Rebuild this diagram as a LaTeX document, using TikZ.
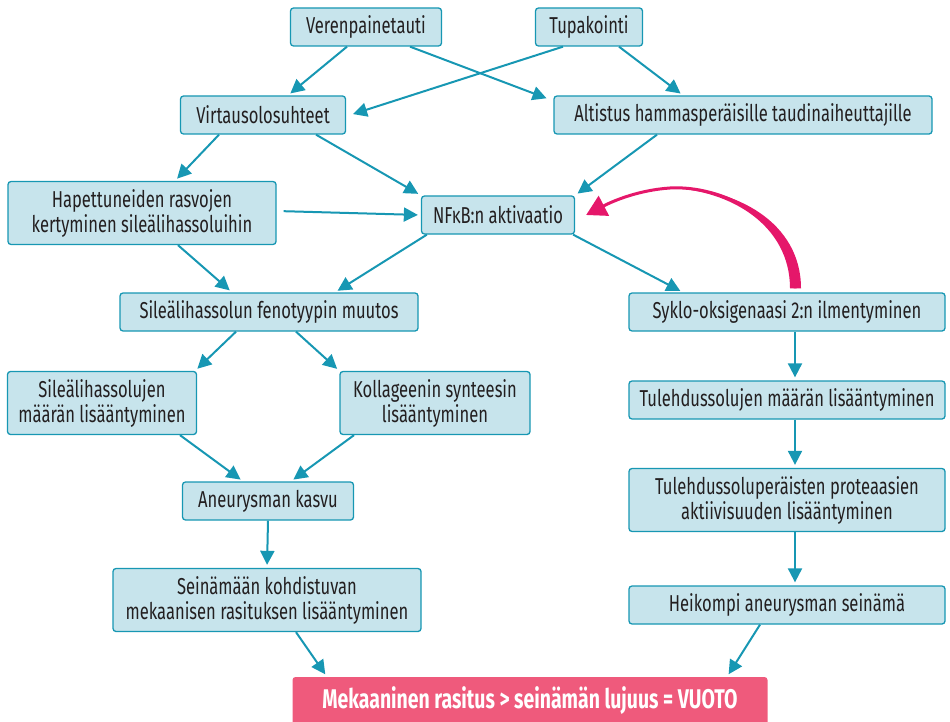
\documentclass[tikz,border=0pt]{standalone}
\usepackage{fontspec}
\setmainfont{Fira Sans}[FakeStretch=0.72]
\usetikzlibrary{arrows.meta}
\definecolor{Teal}{HTML}{1797B3}
\definecolor{Ice}{HTML}{C7E4EC}
\definecolor{Ink}{HTML}{231F20}
\definecolor{Rose}{HTML}{EF5A7C}
\definecolor{Magenta}{HTML}{E5176A}
\begin{document}
\begin{tikzpicture}[x=1pt,y=-1pt,
    box/.style={draw=Teal,fill=Ice,line width=1.3pt,rounded corners=3pt,align=center,inner sep=0pt,
      text=Ink,font=\fontsize{23}{25}\selectfont,minimum height=38},
    tall/.style={box,minimum height=63},
    arr/.style={Teal,line width=2pt,-{Triangle[length=14pt,width=14pt]},shorten >=3pt}]
  \useasboundingbox(0,0)rectangle(950,722);
  % left branch
  \node[box,minimum width=151](ver)at(366,27){Verenpainetauti};
  \node[box,minimum width=107](tup)at(589,27){Tupakointi};
  \node[box,minimum width=165](vir)at(263,115){Virtausolosuhteet};
  \node[box,minimum width=378](alt)at(743,115){Altistus hammasperäisille taudinaiheuttajille};
  \node[tall,minimum width=268](hap)at(142,213){Hapettuneiden rasvojen\\kertyminen sileälihassoluihin};
  \node[box,minimum width=153](nfk)at(498,215){NFκB:n aktivaatio};
  \node[box,minimum width=298](sil)at(269,312){Sileälihassolun fenotyypin muutos};
  \node[tall,minimum width=189](sl1)at(102,403){Sileälihassolujen\\määrän lisääntyminen};
  \node[tall,minimum width=190](kol)at(435,403){Kollageenin synteesin\\lisääntyminen};
  \node[box,minimum width=171](ane)at(268,501){Aneurysman kasvu};
  \node[tall,minimum width=308](sei)at(267,600){Seinämään kohdistuvan\\mekaanisen rasituksen lisääntyminen};
  % right branch
  \node[box,minimum width=316](syk)at(787,312){Syklo-oksigenaasi 2:n ilmentyminen};
  \node[box,minimum width=316](tu1)at(787,400){Tulehdussolujen määrän lisääntyminen};
  \node[tall,minimum width=316](tu2)at(787,500){Tulehdussoluperäisten proteaasien\\aktiivisuuden lisääntyminen};
  \node[box,minimum width=316](hei)at(787,605){Heikompi aneurysman seinämä};
  \node[fill=Rose,rounded corners=3pt,minimum width=475,minimum height=48,text=white,
    font=\fontsize{27}{29}\selectfont\bfseries](mek)at(530,701){Mekaaninen rasitus > seinämän lujuus = VUOTO};
  % connectors
  \draw[arr]([xshift=-19]ver.south)--([xshift=25]vir.north);
  \draw[arr]([xshift=44]ver.south)--([xshift=-4,yshift=-4]alt.north west);
  \draw[arr]([xshift=-26]tup.south)--([xshift=4]vir.east);
  \draw[arr]([xshift=30]tup.south)--([xshift=-60]alt.north);
  \draw[arr]([xshift=-44]vir.south)--([xshift=33]hap.north);
  \draw[arr]([xshift=53]vir.south)--(nfk.north west);
  \draw[arr]([xshift=-86]alt.south)--(nfk.north east);
  \draw[arr,shorten <=7pt]([yshift=2]hap.east)--(nfk.west);
  \draw[arr]([xshift=36]hap.south)--([xshift=-37]sil.north);
  \draw[arr]([xshift=6]nfk.south west)--([xshift=66]sil.north);
  \draw[arr]([xshift=-2]nfk.south east)--([xshift=-104]syk.north);
  \draw[arr]([xshift=-33]sil.south)--([xshift=-2]sl1.north east);
  \draw[arr]([xshift=27]sil.south)--(kol.north west);
  \draw[arr]([xshift=78]sl1.south)--([xshift=-25]ane.north);
  \draw[arr]([xshift=-81]kol.south)--([xshift=23]ane.north);
  \draw[arr](ane.south)--(sei.north);
  \draw[arr]([xshift=29]sei.south)--([xshift=-203]mek.north);
  \foreach \a/\b in {syk/tu1,tu1/tu2,tu2/hei}
    \draw[arr]([xshift=8]\a.south)--([xshift=8]\b.north);
  \draw[arr]([xshift=-27]hei.south)--([xshift=197]mek.north);
  % feedback, thicker at its foot
  \fill[Magenta]([xshift=3,yshift=4]syk.north)..controls(790,225)and(730,190)..(670,188)
    ..controls(735,187)and(801,222)..([xshift=14,yshift=4]syk.north)--cycle;
  \draw[Magenta,line width=3pt,-{Triangle[length=20pt,width=22pt]}]
    ([xshift=8,yshift=4]syk.north)..controls(795,218)and(720,185)..(670,188)
    ..controls(640,190)and(615,200)..([xshift=11]nfk.east);
\end{tikzpicture}
\end{document}
